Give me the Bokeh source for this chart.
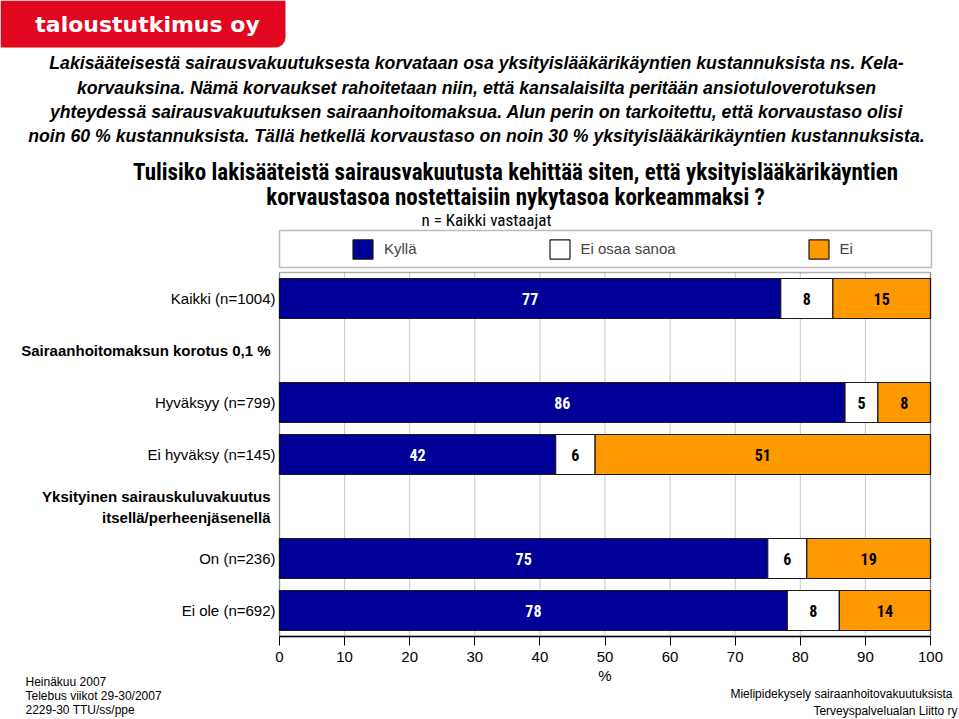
from bokeh.plotting import figure
from bokeh.models import (Label, BoxAnnotation, Legend, LegendItem, ColumnDataSource,
                          FixedTicker, Range1d)
from bokeh.embed import file_html
from bokeh.resources import INLINE
from bokeh.core.properties import value

# ---------------- data ----------------
row_labels = [
    "Kaikki (n=1004)",
    "Sairaanhoitomaksun korotus 0,1 %",
    "Hyväksyy (n=799)",
    "Ei hyväksy (n=145)",
    "Yksityinen sairauskuluvakuutus\nitsellä/perheenjäsenellä",
    "On (n=236)",
    "Ei ole (n=692)",
]
header_rows = ["Sairaanhoitomaksun korotus 0,1 %",
               "Yksityinen sairauskuluvakuutus\nitsellä/perheenjäsenellä"]
bar_rows = ["Kaikki (n=1004)", "Hyväksyy (n=799)", "Ei hyväksy (n=145)",
            "On (n=236)", "Ei ole (n=692)"]
series_names = ["Kyllä", "Ei osaa sanoa", "Ei"]
kylla = [77, 86, 42, 75, 78]
eos = [8, 5, 6, 6, 8]
ei = [15, 8, 51, 19, 14]
x_ticks = [0, 10, 20, 30, 40, 50, 60, 70, 80, 90, 100]
x_axis_label = "%"

intro_lines = [
    "Lakisääteisestä sairausvakuutuksesta korvataan osa yksityislääkärikäyntien kustannuksista ns. Kela-",
    "korvauksina. Nämä korvaukset rahoitetaan niin, että kansalaisilta peritään ansiotuloverotuksen",
    "yhteydessä sairausvakuutuksen sairaanhoitomaksua. Alun perin on tarkoitettu, että korvaustaso olisi",
    "noin 60 % kustannuksista. Tällä hetkellä korvaustaso on noin 30 % yksityislääkärikäyntien kustannuksista.",
]
question_lines = [
    "Tulisiko lakisääteistä sairausvakuutusta kehittää siten, että yksityislääkärikäyntien",
    "korvaustasoa nostettaisiin nykytasoa korkeammaksi ?",
]
subtitle = "n = Kaikki vastaajat"
logo_text = "taloustutkimus oy"
footer_left = ["Heinäkuu 2007", "Telebus viikot 29-30/2007", "2229-30 TTU/ss/ppe"]
footer_right = ["Mielipidekysely sairaanhoitovakuutuksista", "Terveyspalvelualan Liitto ry"]

# ---------------- styles / layout ----------------
NAVY = "#000099"
ORANGE = "#FF9900"
WHITE = "#FFFFFF"
colors = [NAVY, WHITE, ORANGE]
value_colors = ["white", "black", "black"]
FONT = "Liberation Sans"
COND = "Roboto Condensed"

W, H = 959, 719
FRAME_BOTTOM = 636          # pixel y of the plot-area bottom (axis line)
PX0, PX100 = 279, 930       # pixel x of 0 % and 100 %
ROWS_TOP = 272              # pixel y of plot-area top
n_rows = len(row_labels)
ppu = (PX100 - PX0) / 100.0
ppr = (FRAME_BOTTOM - ROWS_TOP) / float(n_rows)


def sy(y_img):
    # screen units are measured from the bottom of the (full-canvas) frame
    return H - y_img


row_y = {lab: n_rows - i - 0.5 for i, lab in enumerate(row_labels)}

p = figure(width=W, height=H, output_backend="svg", toolbar_location=None,
           x_range=Range1d(-PX0 / ppu, (W - PX0) / ppu),
           y_range=Range1d(-(H - FRAME_BOTTOM) / ppr, FRAME_BOTTOM / ppr),
           y_axis_location=None,
           min_border_left=0, min_border_right=0, min_border_top=0, min_border_bottom=0,
           background_fill_color="white", border_fill_color="white")
p.outline_line_color = None
p.xgrid.visible = False
p.ygrid.visible = False

# grid lines limited to the plot area
p.segment(x0=x_ticks, x1=x_ticks, y0=[0] * len(x_ticks), y1=[n_rows] * len(x_ticks),
          line_color="#c8c8c8", line_width=1)

# bars (normalised to 100 %)
tot = [a + b + c for a, b, c in zip(kylla, eos, ei)]
src = ColumnDataSource(dict(
    y=[row_y[r] for r in bar_rows],
    s0=[a * 100.0 / t for a, t in zip(kylla, tot)],
    s1=[b * 100.0 / t for b, t in zip(eos, tot)],
    s2=[c * 100.0 / t for c, t in zip(ei, tot)],
))
bar_h = 40.0 / 52.0
renderers = p.hbar_stack(["s0", "s1", "s2"], y="y", height=bar_h, source=src,
                         fill_color=colors, line_color="#1a1a1a", line_width=1.2)

# plot-area border
p.add_layout(BoxAnnotation(left=0, right=100, bottom=0, top=n_rows, fill_alpha=0,
                           line_color="black", line_width=1.5))

# value labels
lx, ly, lt, lc = [], [], [], []
for i, r in enumerate(bar_rows):
    vals = [kylla[i], eos[i], ei[i]]
    start = 0.0
    for j, v in enumerate(vals):
        w = v * 100.0 / tot[i]
        lx.append(start + w / 2.0)
        ly.append(row_y[r])
        lt.append(str(v))
        lc.append(value_colors[j])
        start += w
p.text(x=lx, y=ly, text=lt, text_color=lc, text_align="center", text_baseline="middle",
       text_font=value(COND), text_font_style="bold", text_font_size="16px")

# row labels
for bold in (False, True):
    tx, ty, tt, toff = [], [], [], []
    for lab in row_labels:
        if (lab in header_rows) != bold:
            continue
        parts = lab.split("\n")
        nl = len(parts)
        for k, part in enumerate(parts):
            tx.append(0)
            ty.append(row_y[lab])
            tt.append(part)
            toff.append((k - (nl - 1) / 2.0) * 21)
    p.text(x=tx, y=ty, text=tt, y_offset=toff, x_offset=-9 if bold else -4,
           text_align="right", text_baseline="middle", text_color="black",
           text_font=value(FONT), text_font_style="bold" if bold else "normal",
           text_font_size="15px")

# x axis drawn at y = 0 of the data
ax = p.xaxis[0]
ax.fixed_location = 0
ax.ticker = FixedTicker(ticks=x_ticks)
ax.bounds = (0, 100)
ax.minor_tick_line_color = None
ax.major_tick_in = 0
ax.major_tick_out = 9
ax.major_tick_line_color = "black"
ax.axis_line_color = "black"
ax.axis_line_width = 1.5
ax.major_label_text_font = FONT
ax.major_label_text_font_size = "15px"
ax.major_label_text_color = "black"
ax.major_label_standoff = 6
p.add_layout(Label(x=50, x_units="data", y=sy(675), y_units="screen", text=x_axis_label,
                   text_font=FONT, text_font_size="15px", text_align="center",
                   text_baseline="middle", text_color="black"))

# legend box + legend
p.add_layout(BoxAnnotation(left=PX0, right=PX100 + 1, top=sy(230), bottom=sy(267),
                           left_units="screen", right_units="screen",
                           top_units="screen", bottom_units="screen",
                           fill_alpha=0, line_color="#222222", line_width=1.5))
legend = Legend(items=[LegendItem(label=n, renderers=[r]) for n, r in zip(series_names, renderers)],
                orientation="horizontal", location=(350, sy(260.5)),
                padding=0, spacing=130, glyph_width=25, glyph_height=24,
                label_standoff=9, label_height=24, border_line_color=None,
                background_fill_alpha=0, label_text_font=FONT,
                label_text_font_size="15px", margin=0)
p.add_layout(legend, "center")

# logo
logo_kw = dict(left=0, right=285, top=sy(0), bottom=sy(47),
               left_units="screen", right_units="screen",
               top_units="screen", bottom_units="screen",
               fill_color="#E2061E", fill_alpha=1, line_color=None)
if "border_radius" in BoxAnnotation.properties():
    logo_kw["border_radius"] = (0, 0, 10, 0)
p.add_layout(BoxAnnotation(**logo_kw))
p.add_layout(Label(x=147, y=sy(24), x_units="screen", y_units="screen", text=logo_text,
                   text_color="white", text_font="DejaVu Sans", text_font_style="bold",
                   text_font_size="22px", text_align="center", text_baseline="middle"))

# intro paragraph
for line, yy in zip(intro_lines, [62, 87, 111, 135]):
    p.add_layout(Label(x=476, y=sy(yy), x_units="screen", y_units="screen", text=line,
                       text_font=FONT, text_font_style="bold italic", text_font_size="17.7px",
                       text_align="center", text_baseline="middle", text_color="black"))

# question + subtitle
for line, yy in zip(question_lines, [172, 197]):
    p.add_layout(Label(x=515, y=sy(yy), x_units="screen", y_units="screen", text=line,
                       text_font=COND, text_font_style="bold", text_font_size="23px",
                       text_align="center", text_baseline="middle", text_color="black"))
p.add_layout(Label(x=486, y=sy(219), x_units="screen", y_units="screen", text=subtitle,
                   text_font=COND, text_font_style="normal", text_font_size="17px",
                   text_align="center", text_baseline="middle", text_color="black"))

# footers
for line, yy in zip(footer_left, [681, 695, 709]):
    p.add_layout(Label(x=25, y=sy(yy), x_units="screen", y_units="screen", text=line,
                       text_font=FONT, text_font_size="12px", text_align="left",
                       text_baseline="middle", text_color="black"))
for line, xx, yy in zip(footer_right, [952, 957], [693, 710]):
    p.add_layout(Label(x=xx, y=sy(yy), x_units="screen", y_units="screen", text=line,
                       text_font=FONT, text_font_size="12px", text_align="right",
                       text_baseline="middle", text_color="black"))

open("out.html", "w").write(file_html(p, INLINE))
